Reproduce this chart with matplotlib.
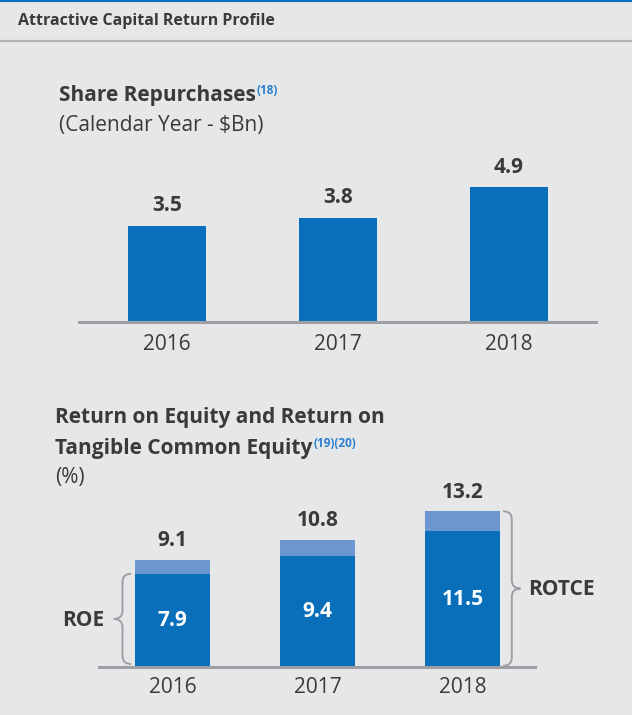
import matplotlib.pyplot as plt
from matplotlib.path import Path
from matplotlib.patches import PathPatch

# data
years = ['2016', '2017', '2018']
buybacks = [3.5, 3.8, 4.9]
roe = [7.9, 9.4, 11.5]
rotce = [9.1, 10.8, 13.2]

W, H = 632, 715
BG = '#e6e7e9'
DARK = '#0a6fba'
LIGHT = '#6b96cf'
TXT = '#3a3a3c'
GREY = '#9d9fa2'
SUP = '#2b7fd0'
plt.rcParams['font.family'] = ['Open Sans', 'DejaVu Sans']

fig = plt.figure(figsize=(W / 100, H / 100), dpi=100, facecolor=BG)


def fx(x):
    return x / W


def fy(y):
    return 1 - y / H


def axes_px(left, top, right, bottom):
    return fig.add_axes([fx(left), fy(bottom), (right - left) / W, (bottom - top) / H])


def style(ax):
    ax.set_facecolor('none')
    for s in ['left', 'right', 'top']:
        ax.spines[s].set_visible(False)
    ax.spines['bottom'].set_color(GREY)
    ax.spines['bottom'].set_linewidth(2.2)
    ax.set_yticks([])
    ax.tick_params(axis='x', length=0, labelsize=15, labelcolor=TXT)


def brace(ax, x0, y0, y1, h, r, side):
    # side=-1 -> '{' with tip to the left, side=1 -> '}'
    ym = (y0 + y1) / 2
    xe = x0 - side * h
    xt = x0 + side * h
    verts = [(xe, y0), (x0, y0), (x0, y0 + r),
             (x0, ym - r), (x0, ym), (xt, ym),
             (x0, ym), (x0, ym + r),
             (x0, y1 - r), (x0, y1), (xe, y1)]
    codes = [Path.MOVETO, Path.CURVE3, Path.CURVE3,
             Path.LINETO, Path.CURVE3, Path.CURVE3,
             Path.CURVE3, Path.CURVE3,
             Path.LINETO, Path.CURVE3, Path.CURVE3]
    ax.add_patch(PathPatch(Path(verts, codes), facecolor='none', edgecolor=GREY,
                           lw=1.4, clip_on=False))


# header
fig.add_artist(plt.Line2D([0, 1], [fy(1), fy(1)], color=DARK, lw=1.5))
fig.add_artist(plt.Line2D([0, 1], [fy(40.5), fy(40.5)], color='#b3b4b6', lw=1.6))
fig.text(fx(18), fy(21), 'Attractive Capital Return Profile', fontsize=11.5,
         fontweight='bold', color=TXT, va='center')

# titles
t1 = fig.text(fx(59), fy(95), 'Share Repurchases', fontsize=15, fontweight='bold',
              color=TXT, va='center')
fig.text(fx(59), fy(125), '(Calendar Year - $Bn)', fontsize=15, fontweight='medium',
         color=TXT, va='center')
fig.text(fx(55), fy(418), 'Return on Equity and Return on', fontsize=15,
         fontweight='bold', color=TXT, va='center')
t2 = fig.text(fx(55), fy(448), 'Tangible Common Equity', fontsize=15, fontweight='bold',
              color=TXT, va='center')
fig.text(fx(55), fy(477), '(%)', fontsize=15, fontweight='medium', color=TXT, va='center')

fig.canvas.draw()
r = fig.canvas.get_renderer()
for t, s in [(t1, '(18)'), (t2, '(19)(20)')]:
    bb = t.get_window_extent(r)
    fig.text(bb.x1 / W + fx(1), bb.y1 / H - 12 / H, s, fontsize=8.5, fontweight='bold',
             color=SUP, va='bottom')

# share repurchases
ax1 = axes_px(79, 140, 596, 322)
style(ax1)
x = range(len(years))
ax1.bar(x, buybacks, width=0.456, color=DARK)
for i, v in enumerate(buybacks):
    ax1.annotate(f'{v:.1f}', (i, v), xytext=(0, 7), textcoords='offset points',
                 ha='center', va='bottom', fontsize=15, fontweight='bold', color=TXT)
ax1.set_xlim(-0.515, 2.509)
ax1.set_ylim(0, 182 / 27.5)
ax1.set_xticks(list(x), years)
ax1.tick_params(axis='x', pad=9)

# roe / rotce
ax2 = axes_px(99, 470, 535, 667)
style(ax2)
ax2.bar(x, roe, width=0.517, color=DARK)
ax2.bar(x, [t - e for t, e in zip(rotce, roe)], bottom=roe, width=0.517, color=LIGHT)
for i in x:
    ax2.annotate(f'{rotce[i]:.1f}', (i, rotce[i]), xytext=(0, 6), textcoords='offset points',
                 ha='center', va='bottom', fontsize=15, fontweight='bold', color=TXT)
    ax2.text(i, roe[i] / 2, f'{roe[i]:.1f}', ha='center', va='center', fontsize=15,
             fontweight='bold', color='white')
ax2.set_xlim(-0.507, 2.5)
ax2.set_ylim(0, 197 / 11.8)
ax2.set_xticks(list(x), years)
ax2.tick_params(axis='x', pad=7)

brace(ax2, -0.345, 0.25, roe[0], 0.06, 0.7, -1)
ax2.text(-0.47, roe[0] / 2, 'ROE', ha='right', va='center', fontsize=15,
         fontweight='bold', color=TXT)
brace(ax2, 2.34, 0.1, rotce[2], 0.06, 0.7, 1)
ax2.text(2.45, rotce[2] / 2, 'ROTCE', ha='left', va='center', fontsize=15,
         fontweight='bold', color=TXT, clip_on=False)

fig.savefig('out.png', dpi=100, facecolor=BG)
